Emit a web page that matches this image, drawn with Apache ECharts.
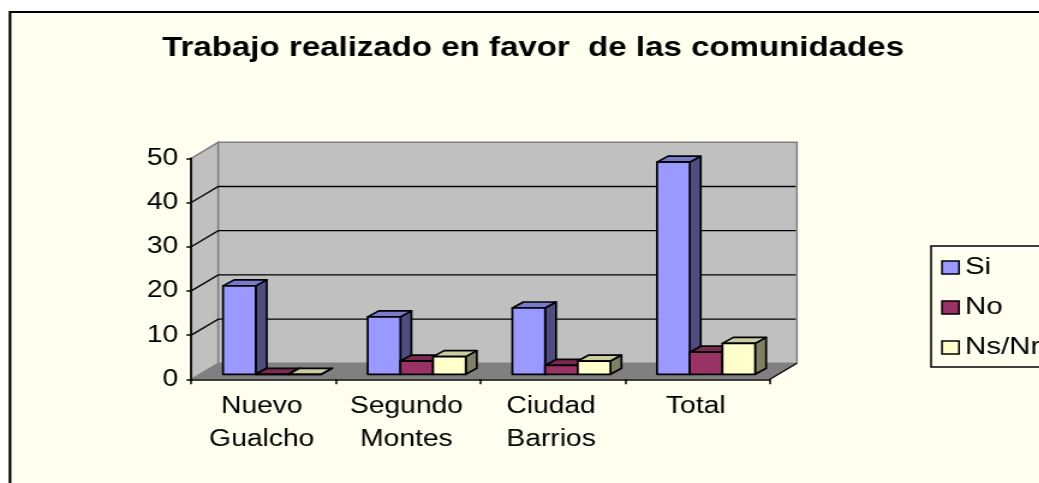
<!DOCTYPE html>
<html><head><meta charset="utf-8">
<style>
html,body{margin:0;padding:0;background:#fff;overflow:hidden;width:1039px;height:483px}
#c{position:absolute;left:0;top:0;height:483px;transform-origin:0 0}
</style>
<script src="https://cdn.jsdelivr.net/npm/echarts@6/dist/echarts.min.js"></script>
</head><body><div id="c"></div>
<script>
const categories = ['Nuevo\nGualcho', 'Segundo\nMontes', 'Ciudad\nBarrios', 'Total'];
const si = [20, 13, 15, 48];
const no = [0, 3, 2, 5];
const nsnr = [0, 4, 3, 7];
const yTicks = [0, 10, 20, 30, 40, 50];
const title = 'Trabajo realizado en favor  de las comunidades';

const SX = 1.2;
const W = 1039 / SX;
const px = x => x / SX;
const el = document.getElementById('c');
el.style.width = W + 'px';
el.style.transform = 'scaleX(' + SX + ')';
const chart = echarts.init(el, null, {width: W, height: 483});

const font = 'Liberation Sans, Arial, sans-serif';
const wallDx = px(27), wallDy = -16;
const barDx = px(11), barDy = -6;
const baseDx = px(8.5), baseDy = -5;

function renderWalls(params, api) {
  const v = api.value(0);
  const p = api.coord([0, v]);
  const cs = params.coordSys;
  const x0 = cs.x, x1 = cs.x + cs.width;
  const y0 = cs.y + cs.height, yT = cs.y;
  const children = [];
  if (params.dataIndex === 0) {
    children.push({type: 'polygon', shape: {points: [[x0, y0], [x0 + wallDx, y0 + wallDy], [x0 + wallDx, yT + wallDy], [x0, yT]]},
      style: {fill: '#C0C0C0', stroke: '#808080', lineWidth: 1.5}});
    children.push({type: 'polygon', shape: {points: [[x0 + wallDx, y0 + wallDy], [x1 + wallDx, y0 + wallDy], [x1 + wallDx, yT + wallDy], [x0 + wallDx, yT + wallDy]]},
      style: {fill: '#C0C0C0', stroke: '#808080', lineWidth: 1.5}});
    children.push({type: 'polygon', shape: {points: [[x0, y0], [x1, y0], [x1 + wallDx, y0 + wallDy], [x0 + wallDx, y0 + wallDy]]},
      style: {fill: '#808080'}});
    children.push({type: 'line', shape: {x1: x1, y1: y0, x2: x1 + wallDx, y2: y0 + wallDy}, style: {stroke: '#000', lineWidth: 1.3}});
  } else if (v < 50) {
    children.push({type: 'polyline', shape: {points: [[x0, p[1]], [x0 + wallDx, p[1] + wallDy], [x1 + wallDx - 1, p[1] + wallDy]]},
      style: {fill: 'none', stroke: '#000', lineWidth: 1.3}});
  }
  return {type: 'group', children};
}

function makeBars(name, values, idx, front, side, top) {
  return {
    name, type: 'custom', coordinateSystem: 'cartesian2d', z: 3,
    itemStyle: {color: front},
    encode: {x: 0, y: 1},
    data: values.map((v, i) => [i, v]),
    renderItem(params, api) {
      const c = api.coord([api.value(0), api.value(1)]);
      const b = api.coord([api.value(0), 0]);
      const band = api.size([1, 0])[0];
      const w = band * 0.226;
      const x = c[0] - 1.5 * w + idx * w + baseDx;
      const yTop = c[1] + baseDy, yBase = b[1] + baseDy;
      const st = f => ({fill: f, stroke: '#000', lineWidth: 1.7, lineJoin: 'round'});
      return {type: 'group', children: [
        {type: 'polygon', shape: {points: [[x + w, yTop], [x + w + barDx, yTop + barDy], [x + w + barDx, yBase + barDy], [x + w, yBase]]}, style: st(side)},
        {type: 'polygon', shape: {points: [[x, yTop], [x + barDx, yTop + barDy], [x + w + barDx, yTop + barDy], [x + w, yTop]]}, style: st(top)},
        {type: 'rect', shape: {x: x, y: yTop, width: w, height: yBase - yTop}, style: st(front)}
      ]};
    }
  };
}

chart.setOption({
  animation: false,
  backgroundColor: '#fff',
  graphic: [{type: 'rect', z: -10, shape: {x: px(10), y: 12, width: W + 20, height: 500},
    style: {fill: '#FFFFF0', stroke: '#000', lineWidth: 2.2}}],
  title: {text: title, left: px(162), top: 34, padding: 0,
    textStyle: {fontFamily: font, fontWeight: 'bold', fontSize: 27.5, color: '#000'}},
  legend: {
    data: ['Si', 'No', 'Ns/Nr'], orient: 'vertical', left: px(930), top: 246,
    padding: [9, 12, 7, px(10)], itemGap: 15, itemWidth: px(17), itemHeight: 13, icon: 'rect',
    borderColor: '#000', borderWidth: 1.5, backgroundColor: 'transparent',
    itemStyle: {borderColor: '#000', borderWidth: 1.5},
    textStyle: {fontFamily: font, fontSize: 24.5, color: '#000'}
  },
  grid: {left: px(191), top: 158.3, width: px(578), height: 221, containLabel: false},
  xAxis: {type: 'category', data: categories, z: 5,
    axisLine: {lineStyle: {color: '#000', width: 1.7}},
    axisTick: {show: true, alignWithLabel: false, length: 5, lineStyle: {color: '#000', width: 1.5}},
    axisLabel: {color: '#000', fontFamily: font, fontSize: 23.5, lineHeight: 33, margin: 11, interval: 0, padding: [0, 3, 0, 0]}},
  yAxis: {type: 'value', min: 0, max: 50, interval: 10, z: 5,
    axisLine: {show: true, lineStyle: {color: '#000', width: 1.7}},
    axisTick: {show: true, length: 4, lineStyle: {color: '#000', width: 1.5}},
    splitLine: {show: false},
    axisLabel: {color: '#000', fontFamily: font, fontSize: 23.5, margin: px(13), verticalAlign: 'middle', padding: [7, 0, 0, 0]}},
  series: [
    {type: 'custom', name: 'walls', coordinateSystem: 'cartesian2d', silent: true, z: 1,
      encode: {y: 0}, data: yTicks.map(v => [v]), renderItem: renderWalls},
    makeBars('Si', si, 0, '#9999FF', '#4D4D80', '#7A7ACC'),
    makeBars('No', no, 1, '#993366', '#4D1A33', '#7A2952'),
    makeBars('Ns/Nr', nsnr, 2, '#FFFFCC', '#808066', '#CCCCA3')
  ]
});
</script></body></html>
